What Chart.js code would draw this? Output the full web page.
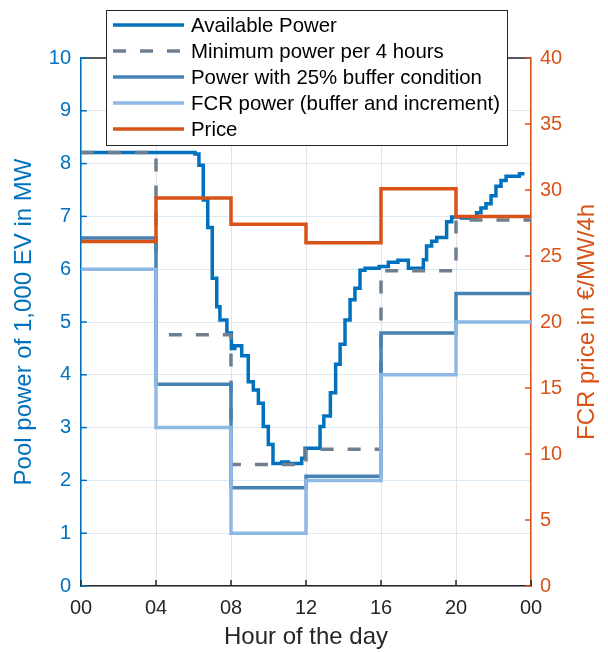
<!DOCTYPE html>
<html><head><meta charset="utf-8">
<script src="https://cdn.jsdelivr.net/npm/chart.js@4.4.0/dist/chart.umd.min.js"></script>
<style>html,body{margin:0;padding:0;background:#fff;}canvas{display:block;}</style>
</head><body>
<canvas id="c" width="608" height="652"></canvas>
<script>
// ---- data ----
const hourLabels = ['00', '04', '08', '12', '16', '20', '00'];
const blockStarts = [0, 4, 8, 12, 16, 20, 24];
const minPower = [8.21, 4.76, 2.30, 2.59, 5.97, 6.93];
const bufferPower = [6.59, 3.82, 1.86, 2.08, 4.79, 5.54];
const fcrPower = [6.0, 3.0, 1.0, 2.0, 4.0, 5.0];
const fcrPrice = [26.1, 29.4, 27.4, 26.0, 30.1, 28.0];
const availHours = [0, 6.08, 6.29, 6.52, 6.76, 7.0, 7.24, 7.41, 7.78, 8.02, 8.2, 8.57, 8.92, 9.19, 9.46, 9.72, 9.99, 10.24, 10.7, 11.06, 11.77, 11.95, 12.75, 12.95, 13.3, 13.58, 13.82, 14.08, 14.35, 14.61, 14.88, 15.15, 15.9, 16.39, 16.9, 17.46, 18.26, 18.43, 18.7, 18.97, 19.5, 19.77, 20.3, 21.1, 21.33, 21.6, 21.87, 22.13, 22.4, 22.67, 23.38, 23.65];
const availPower = [8.21, 8.18, 7.97, 7.31, 6.79, 5.83, 5.29, 5.04, 4.79, 4.50, 4.55, 4.36, 3.87, 3.71, 3.46, 3.02, 2.68, 2.32, 2.35, 2.32, 2.42, 2.61, 3.02, 3.22, 3.66, 4.20, 4.58, 5.04, 5.42, 5.64, 5.98, 6.02, 6.05, 6.13, 6.17, 6.02, 6.18, 6.44, 6.53, 6.60, 6.90, 6.99, 6.97, 7.07, 7.16, 7.24, 7.39, 7.57, 7.68, 7.76, 7.81, 7.81];
const seriesNames = ['Available Power', 'Minimum power per 4 hours', 'Power with 25% buffer condition', 'FCR power (buffer and increment)', 'Price'];
const leftTitle = 'Pool power of 1,000 EV in MW';
const rightTitle = 'FCR price in €/MW/4h';
const xTitle = 'Hour of the day';

// ---- helpers ----
const FONT = "'Liberation Sans', Arial, sans-serif";
const BLUE = '#0072BD', ORANGE = '#D95319', DARK = '#262626';
function blocks(vals) {
  const pts = vals.map((v, i) => ({x: blockStarts[i], y: v}));
  pts.push({x: blockStarts[vals.length], y: vals[vals.length - 1]});
  return pts;
}
const availPts = availHours.map((h, i) => ({x: h, y: availPower[i]}));
const LW = 3.5;
const common = {stepped: true, pointRadius: 0, borderWidth: LW, fill: false, borderJoinStyle: 'miter', borderCapStyle: 'butt'};

const datasets = [
  Object.assign({label: seriesNames[0], data: availPts, borderColor: BLUE, yAxisID: 'y', order: 4}, common),
  Object.assign({label: seriesNames[1], data: blocks(minPower), borderColor: '#6F7F90', borderDash: [13, 14], yAxisID: 'y', order: 3}, common),
  Object.assign({label: seriesNames[2], data: blocks(bufferPower), borderColor: '#4682B4', yAxisID: 'y', order: 2}, common),
  Object.assign({label: seriesNames[3], data: blocks(fcrPower), borderColor: '#8EB9E5', yAxisID: 'y', order: 1}, common),
  Object.assign({label: seriesNames[4], data: blocks(fcrPrice), borderColor: ORANGE, yAxisID: 'y2', order: 0}, common)
];

const deco = {
  id: 'deco',
  beforeDatasetsDraw(chart) {
    const {ctx, chartArea: a, scales} = chart;
    ctx.save();
    ctx.lineWidth = 1.5;
    ctx.strokeStyle = DARK;
    ctx.beginPath(); ctx.moveTo(a.left, a.top); ctx.lineTo(a.right, a.top); ctx.stroke();
    const tl = 6;
    scales.x.ticks.forEach(t => {
      const p = scales.x.getPixelForValue(t.value);
      ctx.beginPath(); ctx.moveTo(p, a.bottom); ctx.lineTo(p, a.bottom - tl); ctx.stroke();
    });
    ctx.strokeStyle = BLUE;
    scales.y.ticks.forEach(t => {
      const p = scales.y.getPixelForValue(t.value);
      ctx.beginPath(); ctx.moveTo(a.left, p); ctx.lineTo(a.left + tl, p); ctx.stroke();
    });
    ctx.strokeStyle = ORANGE;
    scales.y2.ticks.forEach(t => {
      const p = scales.y2.getPixelForValue(t.value);
      ctx.beginPath(); ctx.moveTo(a.right, p); ctx.lineTo(a.right - tl, p); ctx.stroke();
    });
    // right axis title (reads bottom to top)
    ctx.fillStyle = ORANGE;
    ctx.font = '24px ' + FONT;
    ctx.textAlign = 'center';
    ctx.textBaseline = 'middle';
    ctx.translate(587, (a.top + a.bottom) / 2);
    ctx.rotate(-Math.PI / 2);
    ctx.fillText(rightTitle, 0, 0);
    ctx.restore();
  },
  afterDraw(chart) {
    const {ctx} = chart;
    ctx.save();
    const bx = 106.5, by = 10.5, bw = 401, bh = 135;
    ctx.fillStyle = '#fff';
    ctx.fillRect(bx, by, bw, bh);
    ctx.strokeStyle = DARK; ctx.lineWidth = 1;
    ctx.strokeRect(bx, by, bw, bh);
    ctx.font = '20.4px ' + FONT;
    ctx.textBaseline = 'middle';
    ctx.textAlign = 'left';
    chart.data.datasets.forEach((ds, i) => {
      const y = 25 + i * 26;
      ctx.beginPath();
      ctx.setLineDash(ds.borderDash || []);
      ctx.strokeStyle = ds.borderColor;
      ctx.lineWidth = LW;
      ctx.moveTo(113, y); ctx.lineTo(184, y); ctx.stroke();
      ctx.setLineDash([]);
      ctx.fillStyle = '#000';
      ctx.fillText(ds.label, 191, y + 1);
    });
    ctx.restore();
  }
};

new Chart(document.getElementById('c'), {
  type: 'line',
  data: {datasets},
  options: {
    responsive: false,
    animation: false,
    layout: {padding: {top: 58, left: 0, right: 0, bottom: 0}},
    plugins: {legend: {display: false}, tooltip: {enabled: false}},
    scales: {
      x: {
        type: 'linear', position: 'bottom', min: 0, max: 24,
        afterFit(s) { s.height = 66; },
        ticks: {stepSize: 4, color: DARK, font: {size: 20, family: FONT}, padding: 10,
          callback: (v) => hourLabels[Math.round(v / 4)]},
        grid: {color: '#e2e2e2', lineWidth: 1, drawTicks: false},
        border: {color: DARK, width: 1.5},
        title: {display: true, text: xTitle, color: DARK, font: {size: 24, family: FONT}, padding: {top: 0, bottom: 0}}
      },
      y: {
        type: 'linear', position: 'left', min: 0, max: 10,
        afterFit(s) { s.width = 81; },
        ticks: {stepSize: 1, color: BLUE, font: {size: 20, family: FONT}, padding: 10},
        grid: {color: '#dbe9f5', lineWidth: 1, drawTicks: false},
        border: {color: BLUE, width: 1.5},
        title: {display: true, text: leftTitle, color: BLUE, font: {size: 24, family: FONT}, padding: {top: 10, bottom: 0}}
      },
      y2: {
        type: 'linear', position: 'right', min: 0, max: 40,
        afterFit(s) { s.width = 77; },
        ticks: {stepSize: 5, color: ORANGE, font: {size: 20, family: FONT}, padding: 9},
        grid: {display: false, drawTicks: false},
        border: {color: ORANGE, width: 1.5}
      }
    }
  },
  plugins: [deco]
});
</script>
</body></html>
